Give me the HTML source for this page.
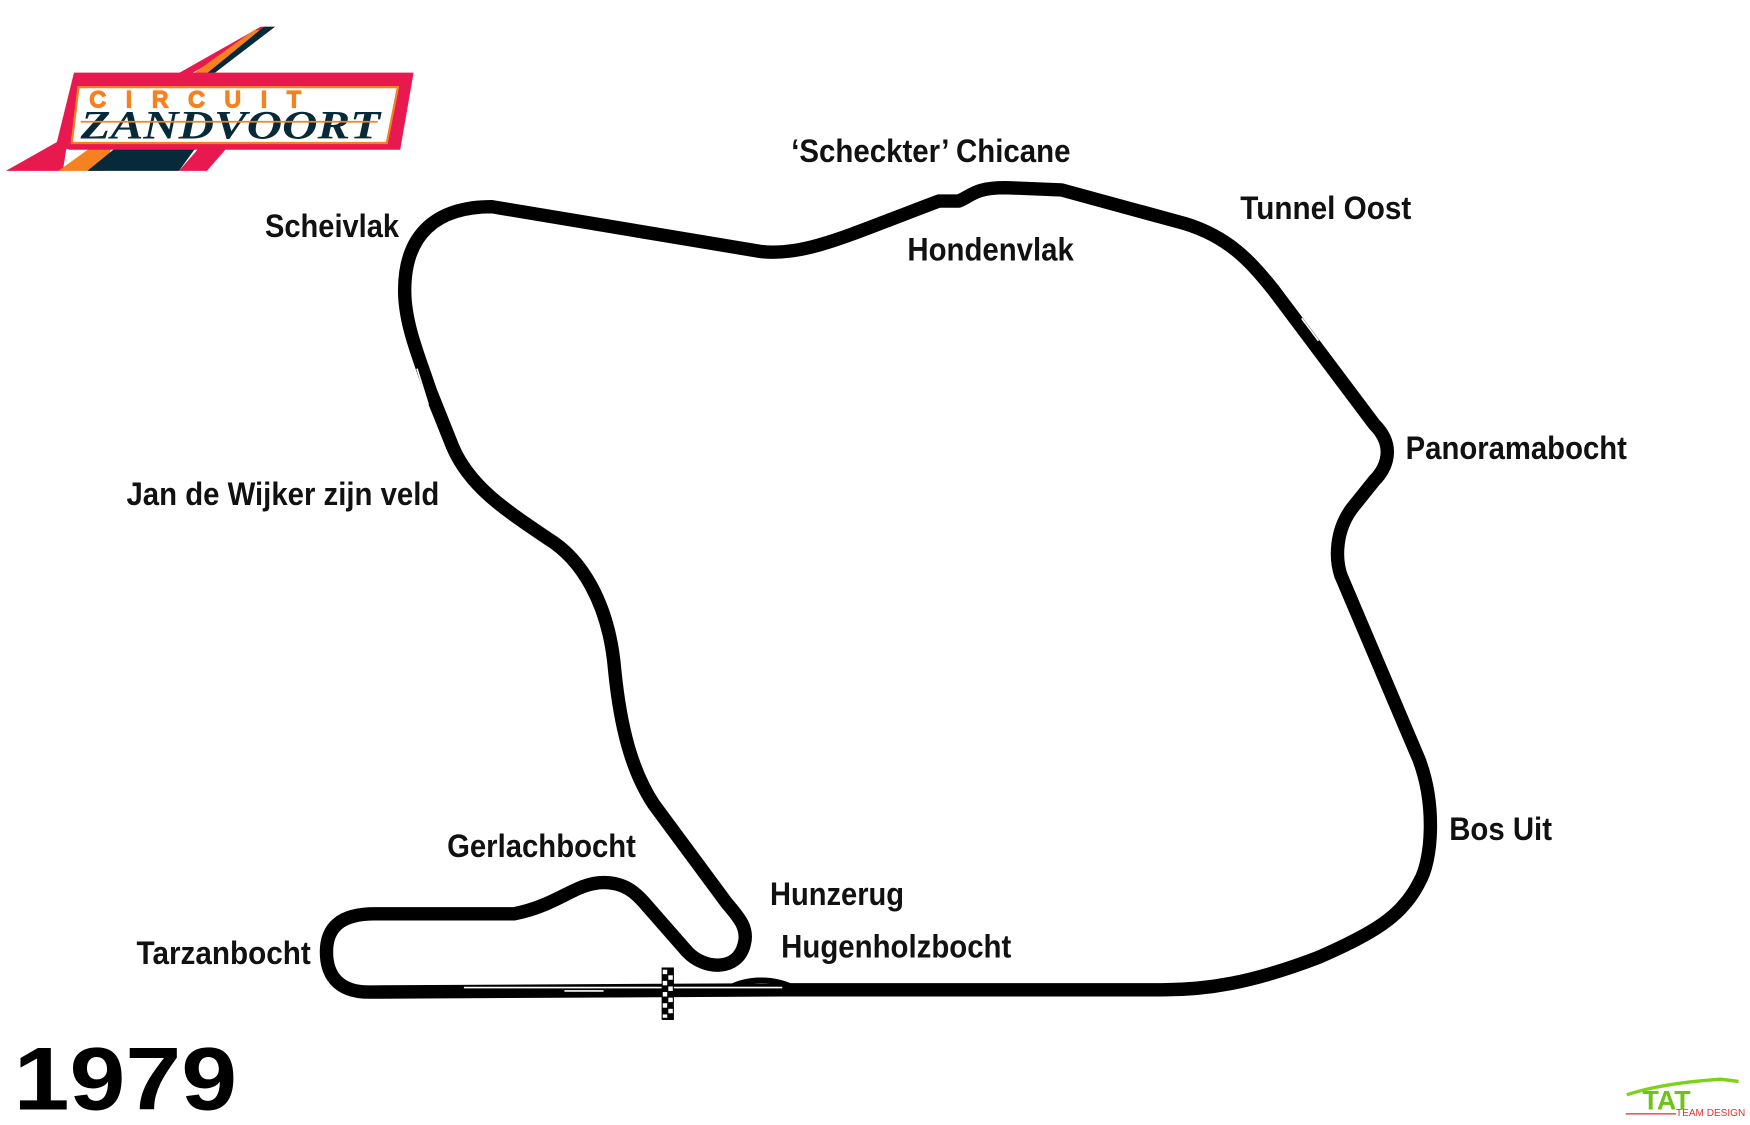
<!DOCTYPE html>
<html><head><meta charset="utf-8"><style>
html,body{margin:0;padding:0;background:#fff;}
svg{display:block}
.l{font-family:"Liberation Sans",sans-serif;font-weight:bold;font-size:29px;fill:#111;}
</style></head><body>
<svg width="1750" height="1125" viewBox="0 0 1566 1007" xmlns="http://www.w3.org/2000/svg">
<!-- logo -->
<polygon points="5,153 233,24 246,24 60,128 56,153" fill="#e8194f"/>
<polygon points="52,153 227,27 238,27 100,128 95,153" fill="#f58220"/>
<polygon points="78,153 236,24 246,24 110,128 178,128 160,153" fill="#072a3a"/>
<polygon points="160,153 180,130 205,130 185,153" fill="#e8194f"/>
<path d="M66,65 L370,65 L358,134 L62,134 L50,130 Z" fill="#e8194f"/>
<path d="M70,78 L356,78 L346,128 L64,128 Z" fill="#fff" stroke="#f58220" stroke-width="2"/>
<text x="80" y="96" font-family="Liberation Sans,sans-serif" font-size="20" fill="none" stroke="#f58220" stroke-width="2" letter-spacing="18">CIRCUIT</text>
<text x="72" y="124" font-family="Liberation Serif,serif" font-weight="bold" font-style="italic" font-size="36" fill="#072a3a" textLength="268" lengthAdjust="spacingAndGlyphs">ZANDVOORT</text>
<line x1="72" y1="109" x2="338" y2="109" stroke="#f58220" stroke-width="1.5"/>
<!-- track -->
<path d="M1040 886 L700 886 L330 888 C300 888 292 870 292 852 C292 830 305 818 335 818 L460 818 C500 810 515 790 540 790 C560 790 570 800 580 812 L615 852 C630 868 660 870 666 845 C670 830 660 820 650 808 L585 720 C565 690 555 650 550 600 C545 540 520 500 490 482 C450 455 420 435 405 400 L385 350 C375 320 362 290 362 260 C362 210 390 185 440 185 L680 225 C720 230 760 210 840 180 L858 180 C870 175 872 168 900 168 L950 170 L1060 200 C1100 212 1120 235 1140 260 L1230 380 C1250 400 1240 420 1230 430 L1210 455 C1195 475 1195 500 1200 515 L1270 680 C1285 720 1282 770 1270 790 C1255 820 1230 835 1180 857 C1120 880 1080 886 1040 886 Z" fill="none" stroke="#000" stroke-width="12" stroke-linejoin="round"/>
<path d="M650 886 C665 876 690 874 710 884" fill="none" stroke="#000" stroke-width="5"/>
<line x1="415" y1="884" x2="700" y2="884" stroke="#fff" stroke-width="1.5"/>
<line x1="505" y1="887" x2="540" y2="887" stroke="#fff" stroke-width="1.5"/>
<line x1="1165" y1="285" x2="1180" y2="305" stroke="#fff" stroke-width="1.5"/>
<line x1="373" y1="330" x2="383" y2="362" stroke="#fff" stroke-width="1.5"/>
<!-- flag -->
<rect x="592" y="866" width="11" height="47" fill="#000"/>
<g fill="#fff">
<rect x="593" y="868" width="4" height="4"/><rect x="598" y="873" width="4" height="4"/><rect x="593" y="878" width="4" height="4"/><rect x="598" y="883" width="4" height="4"/><rect x="593" y="888" width="4" height="4"/><rect x="598" y="893" width="4" height="4"/><rect x="593" y="898" width="4" height="4"/><rect x="598" y="903" width="4" height="4"/><rect x="593" y="908" width="4" height="3"/>
</g>
<!-- labels -->
<text class="l" x="708" y="145" textLength="250" lengthAdjust="spacingAndGlyphs">‘Scheckter’ Chicane</text>
<text class="l" x="812" y="233" textLength="149" lengthAdjust="spacingAndGlyphs">Hondenvlak</text>
<text class="l" x="1110" y="196" textLength="153" lengthAdjust="spacingAndGlyphs">Tunnel Oost</text>
<text class="l" x="237" y="212" textLength="120" lengthAdjust="spacingAndGlyphs">Scheivlak</text>
<text class="l" x="1258" y="411" textLength="198" lengthAdjust="spacingAndGlyphs">Panoramabocht</text>
<text class="l" x="113" y="452" textLength="280" lengthAdjust="spacingAndGlyphs">Jan de Wijker zijn veld</text>
<text class="l" x="1297" y="752" textLength="92" lengthAdjust="spacingAndGlyphs">Bos Uit</text>
<text class="l" x="400" y="767" textLength="169" lengthAdjust="spacingAndGlyphs">Gerlachbocht</text>
<text class="l" x="689" y="810" textLength="120" lengthAdjust="spacingAndGlyphs">Hunzerug</text>
<text class="l" x="699" y="857" textLength="206" lengthAdjust="spacingAndGlyphs">Hugenholzbocht</text>
<text class="l" x="122" y="863" textLength="156" lengthAdjust="spacingAndGlyphs">Tarzanbocht</text>
<text x="12" y="993" font-family="Liberation Sans,sans-serif" font-weight="bold" font-size="80" fill="#000" textLength="200" lengthAdjust="spacingAndGlyphs">1979</text>
<!-- TAT logo -->
<path d="M1456 980 C1480 972 1510 968 1540 966 L1556 968" fill="none" stroke="#7dd11a" stroke-width="3"/>
<text x="1470" y="993" font-family="Liberation Sans,sans-serif" font-weight="bold" font-size="24" fill="#6cc417">TAT</text>
<line x1="1455" y1="997" x2="1500" y2="997" stroke="#f05a5a" stroke-width="1.5"/>
<text x="1500" y="999" font-family="Liberation Sans,sans-serif" font-size="9" fill="#e03030">TEAM DESIGN</text>
</svg>
</body></html>
